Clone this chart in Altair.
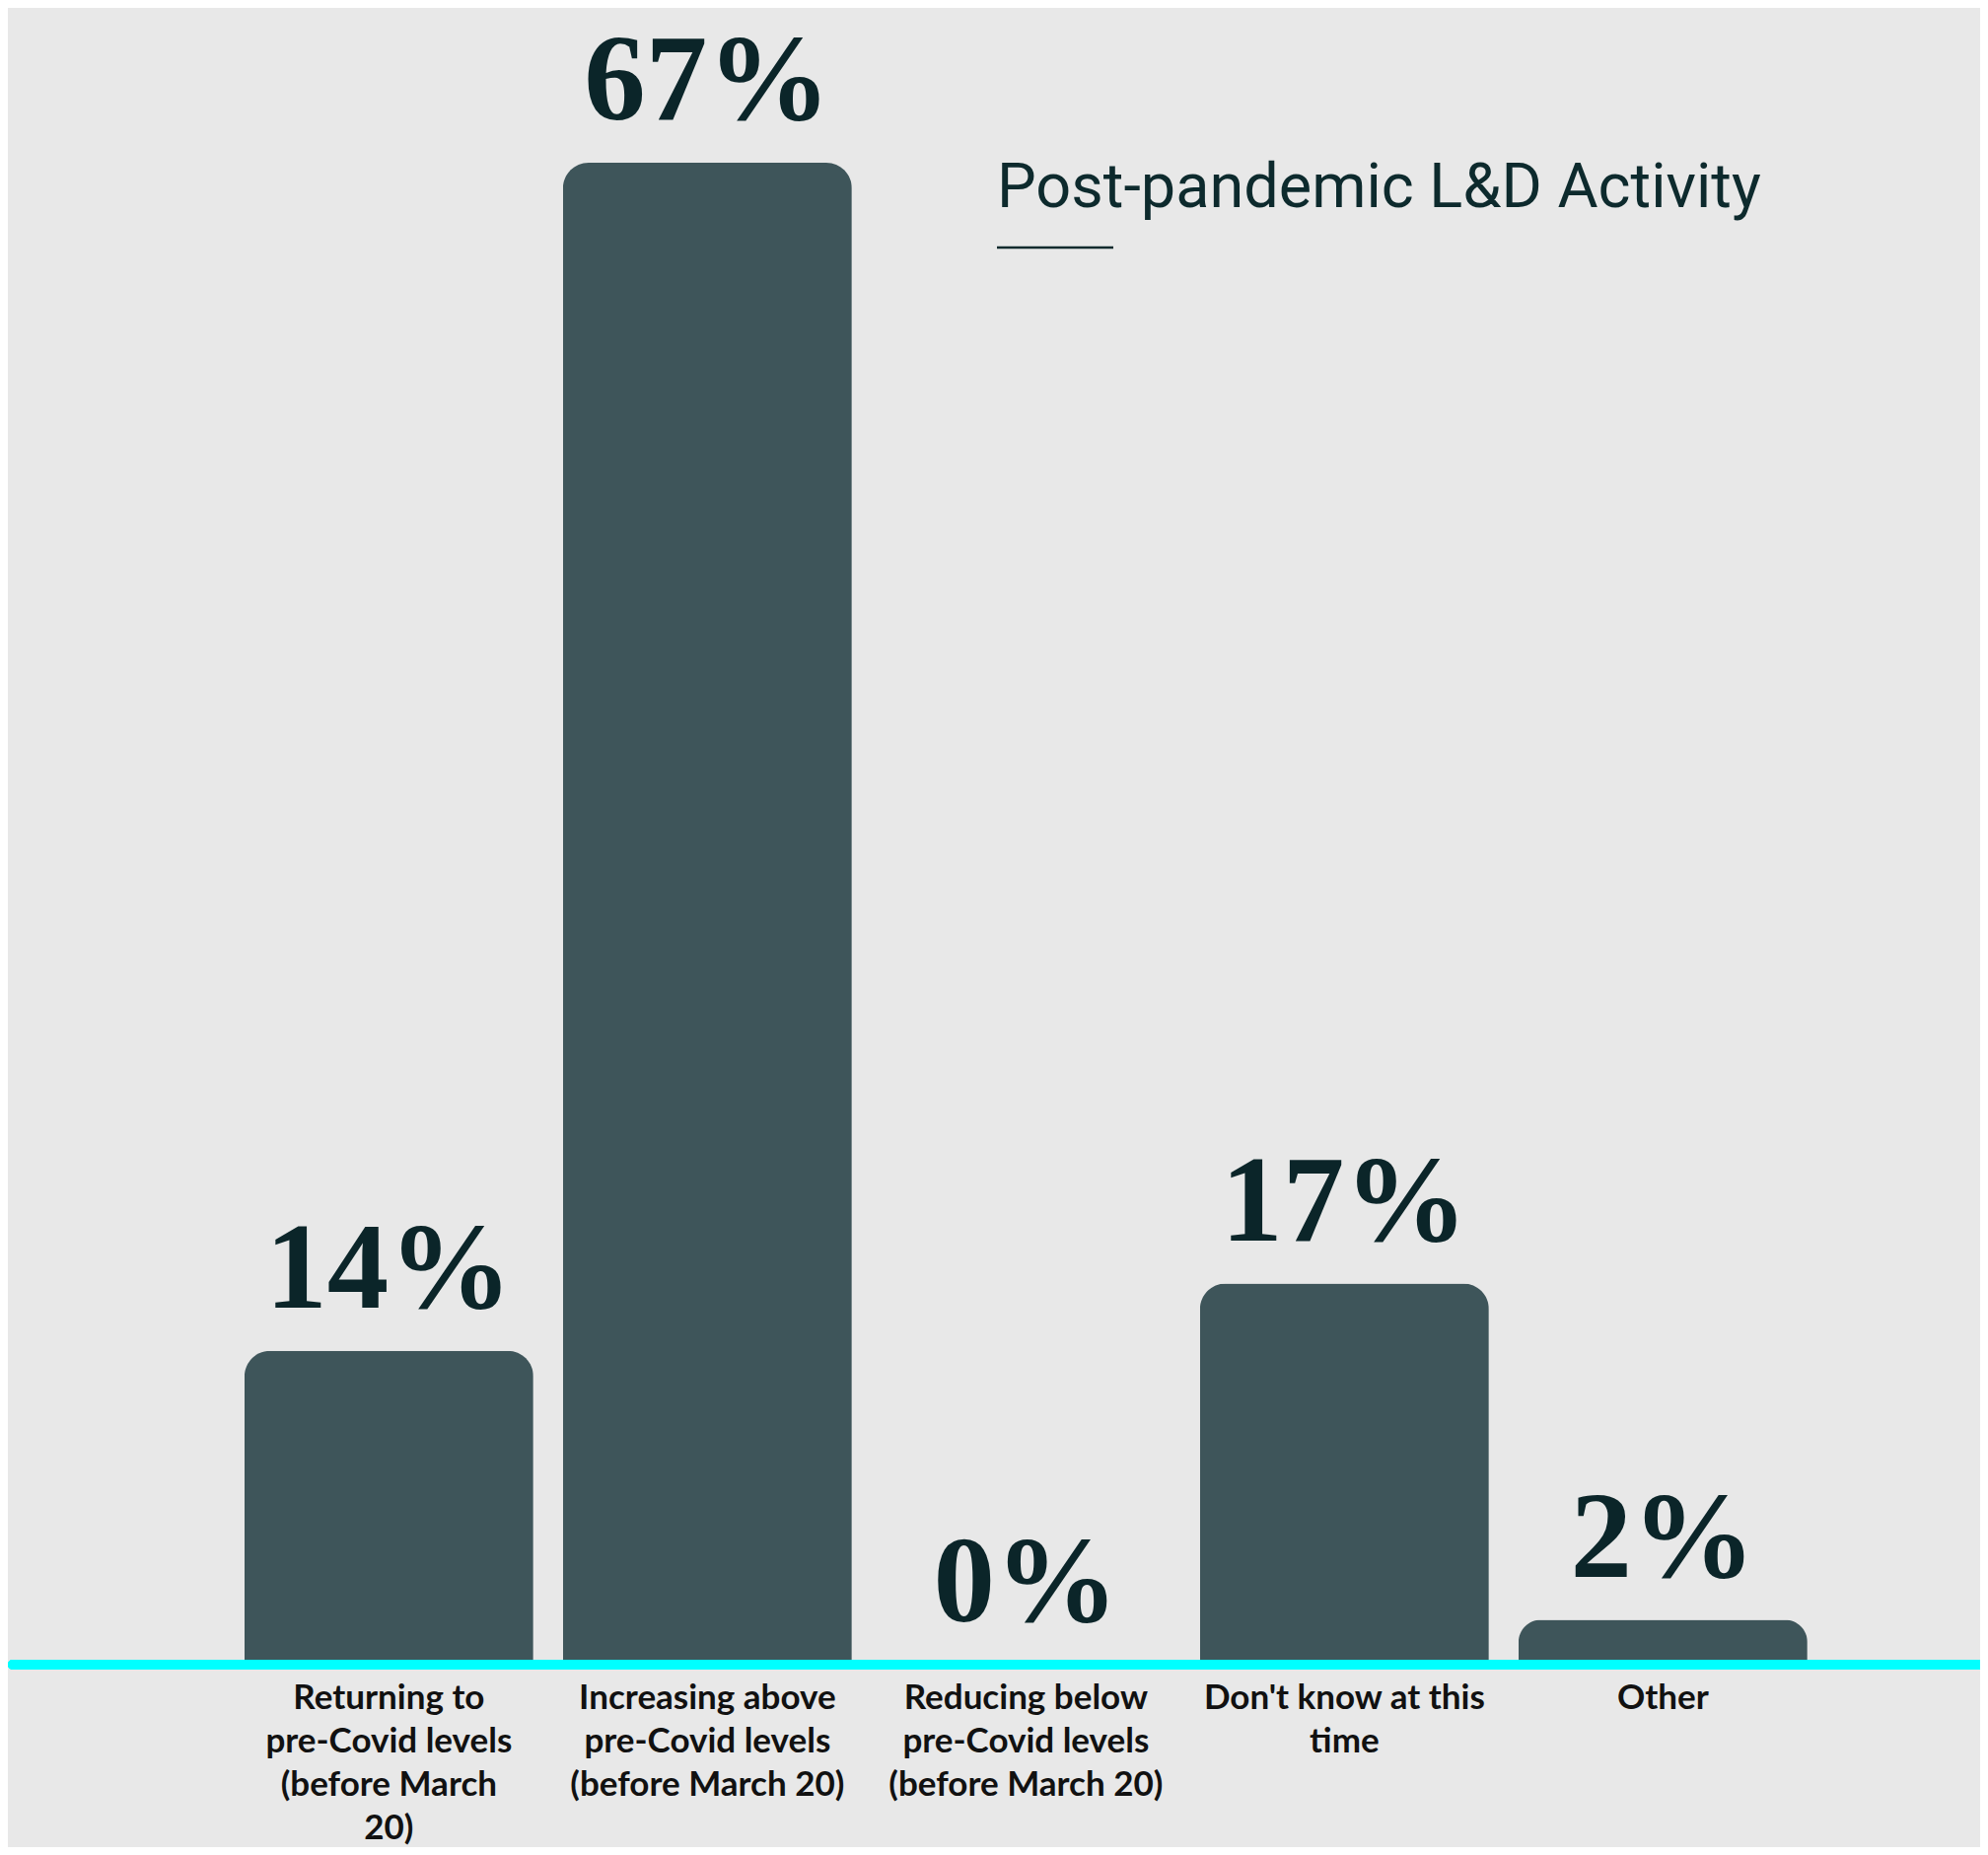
import altair as alt
import pandas as pd

categories = [
    "Returning to pre-Covid levels (before March 20)",
    "Increasing above pre-Covid levels (before March 20)",
    "Reducing below pre-Covid levels (before March 20)",
    "Don't know at this time",
    "Other",
]
axis_labels = [
    "Returning to\npre-Covid levels\n(before March\n20)",
    "Increasing above\npre-Covid levels\n(before March 20)",
    "Reducing below\npre-Covid levels\n(before March 20)",
    "Don't know at this\ntime",
    "Other",
]
values = [14, 67, 0, 17, 2]
value_labels = ["14%", "67%", "0%", "17%", "2%"]
title_text = "Post-pandemic L&D Activity"

df = pd.DataFrame({
    "category": categories,
    "axis_label": axis_labels,
    "value": values,
    "value_label": value_labels,
})

x_scale = alt.Scale(domain=categories, paddingInner=0.0929, paddingOuter=0.6424, align=0.578)
y_scale = alt.Scale(domain=[0, 73.91])

x_enc = alt.X("category:N", scale=x_scale, axis=None, sort=categories)

base = alt.Chart(df)

bars = base.mark_bar(
    color="#3e555a", cornerRadiusTopLeft=26, cornerRadiusTopRight=26
).encode(
    x=x_enc,
    y=alt.Y("value:Q", scale=y_scale, axis=None),
)

value_text = base.mark_text(
    font="Liberation Serif", fontWeight="bold", fontSize=125,
    baseline="alphabetic", dy=-44, color="#0b2529",
).encode(
    x=x_enc,
    y=alt.Y("value:Q", scale=y_scale, axis=None),
    text="value_label:N",
)

cat_text = base.mark_text(
    font="Lato", fontWeight="bold", fontSize=35, lineBreak="\n", lineHeight=44,
    baseline="alphabetic", dy=45, color="#111111",
).encode(
    x=x_enc,
    y=alt.Y(datum=0, scale=y_scale, axis=None),
    text="axis_label:N",
)

baseline_rule = base.mark_rule(
    color="#00ffff", strokeWidth=10, strokeCap="round"
).encode(
    x=alt.value(5), x2=alt.value(1999),
    y=alt.Y(datum=0, scale=y_scale, axis=None),
)

title = alt.Chart(pd.DataFrame({"t": [title_text]})).mark_text(
    font="Roboto", fontWeight=400, fontSize=63, align="left",
    baseline="alphabetic", color="#0d2a2d",
).encode(
    x=alt.value(1003), y=alt.value(202), text="t:N",
)

underline = alt.Chart(pd.DataFrame({"a": [0]})).mark_rule(
    color="#0d2a2d", strokeWidth=2.5
).encode(
    x=alt.value(1003), x2=alt.value(1121), y=alt.value(243),
)

chart = alt.layer(bars, value_text, cat_text, baseline_rule, title, underline).properties(
    width=2000,
    height=1680,
    autosize=alt.AutoSizeParams(type="none"),
    padding={"left": 0, "top": 0, "right": 0, "bottom": 185},
    background="#e8e8e8",
).configure_view(stroke=None)

chart.save("out.html", embed_options={"renderer": "svg", "actions": False})
